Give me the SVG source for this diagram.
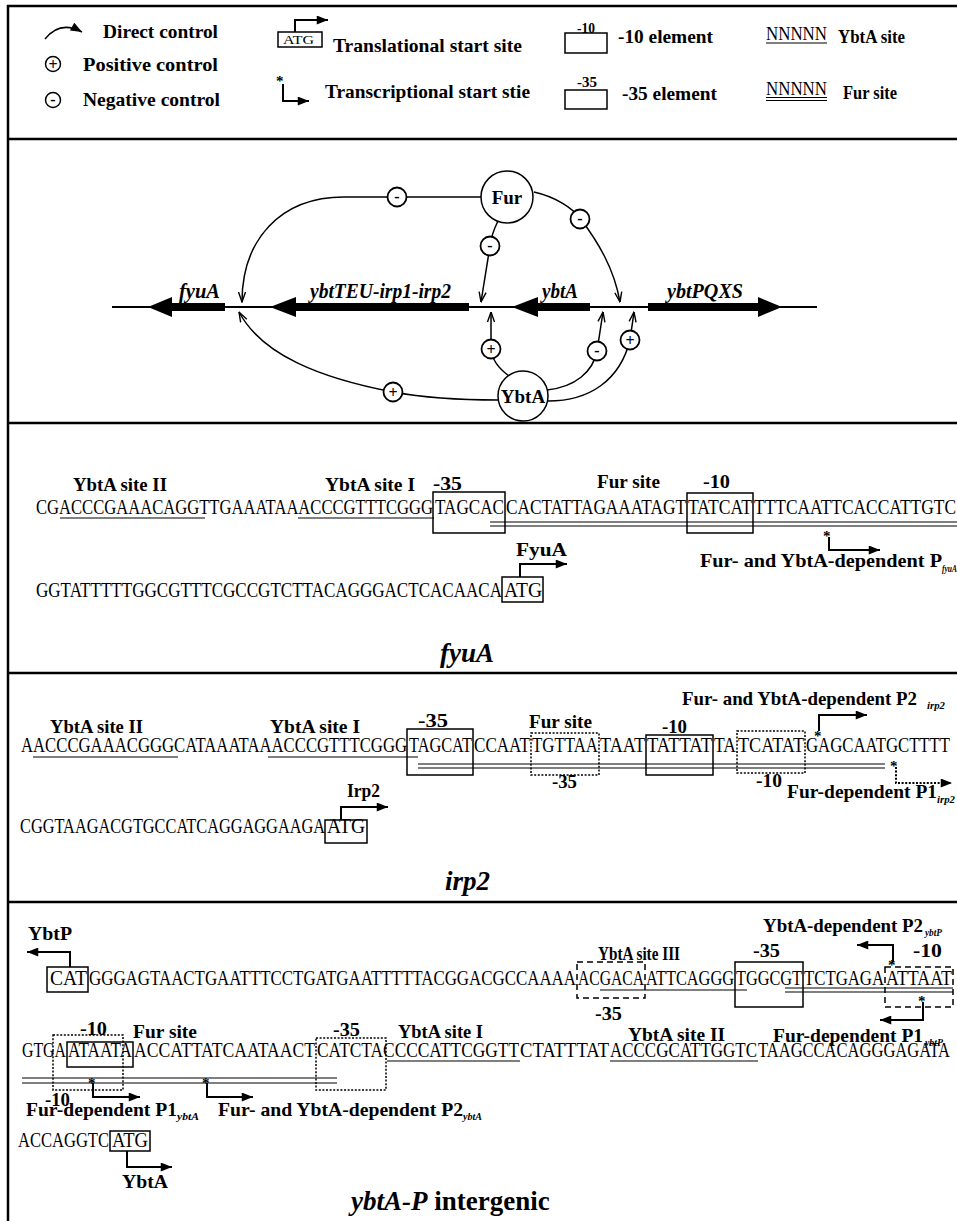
<svg xmlns="http://www.w3.org/2000/svg" width="957" height="1221" viewBox="0 0 957 1221">
<style>
text{font-family:"Liberation Serif","Times New Roman",serif;fill:#000}
.l{font-weight:bold;font-size:19px}
.sm{font-weight:bold;font-size:14px}
.s{font-size:21px}
.t{font-weight:bold;font-size:27px}
.gi{font-weight:bold;font-style:italic;font-size:20px}
.sub{font-weight:bold;font-style:italic;font-size:11px}
.ast{font-weight:bold;font-size:15px}
.sign{font-weight:bold;font-size:16px;text-anchor:middle}
.bx{fill:none;stroke:#000;stroke-width:1.5}
.dt{stroke-dasharray:2 1.6}
.ds{stroke-dasharray:6 4}
.ul{stroke:#000;stroke-width:1.2}
.fr{stroke:#000;stroke-width:2.5}
.cn{fill:none;stroke:#000;stroke-width:1.5}
.ar{fill:none;stroke:#000;stroke-width:2}
.sg{fill:#fff;stroke:#000;stroke-width:1.8}
.nd{fill:#fff;stroke:#000;stroke-width:1.5}
</style>
<defs>
<marker id="tri" viewBox="0 0 10 8" refX="10" refY="4" markerWidth="12" markerHeight="9" markerUnits="userSpaceOnUse" orient="auto"><path d="M0,0 L10,4 L0,8 z" fill="#000"/></marker>
<marker id="vee" viewBox="0 0 10 10" refX="10" refY="5" markerWidth="11" markerHeight="10" markerUnits="userSpaceOnUse" orient="auto"><path d="M0,1.5 L10,5 L0,8.5" fill="none" stroke="#000" stroke-width="1.4"/></marker>
</defs>
<rect width="957" height="1221" fill="#fff"/>

<g id="frame">
<line class="fr" x1="7" y1="6" x2="957" y2="6"/>
<line class="fr" x1="8" y1="5" x2="8" y2="1221"/>
<line class="fr" x1="8" y1="139" x2="957" y2="139"/>
<line class="fr" x1="8" y1="423" x2="957" y2="423"/>
<line class="fr" x1="8" y1="673" x2="957" y2="673"/>
<line class="fr" x1="8" y1="902" x2="957" y2="902"/>
</g>

<g id="legend">
<path class="cn" d="M45,39 Q60,20 82,32" marker-end="url(#tri)"/>
<text class="l" x="103" y="38" textLength="115" lengthAdjust="spacingAndGlyphs">Direct control</text>
<circle class="nd" cx="53" cy="64" r="7.5"/><text class="sign" x="53" y="69.5">+</text>
<text class="l" x="83" y="71" textLength="135" lengthAdjust="spacingAndGlyphs">Positive control</text>
<circle class="nd" cx="53" cy="100" r="7.5"/><text class="sign" x="53" y="105">-</text>
<text class="l" x="83" y="106" textLength="137" lengthAdjust="spacingAndGlyphs">Negative control</text>
<rect class="bx" x="278" y="32" width="44" height="15"/>
<text x="283" y="44" font-size="13" textLength="31" lengthAdjust="spacingAndGlyphs">ATG</text>
<path class="ar" d="M295,32 V20 H328" marker-end="url(#tri)"/>
<text class="l" x="333" y="52" textLength="189" lengthAdjust="spacingAndGlyphs">Translational start site</text>
<text class="ast" x="276" y="86">*</text>
<path class="ar" d="M283,84 V101 H309" marker-end="url(#tri)"/>
<text class="l" x="325" y="98" textLength="205" lengthAdjust="spacingAndGlyphs">Transcriptional start stie</text>
<rect class="bx" x="565" y="33" width="42" height="20"/>
<text class="sm" x="577" y="33" textLength="18" lengthAdjust="spacingAndGlyphs">-10</text>
<text class="l" x="618" y="43" textLength="95" lengthAdjust="spacingAndGlyphs">-10 element</text>
<rect class="bx" x="565" y="90" width="42" height="19"/>
<text class="sm" x="577" y="87" textLength="20" lengthAdjust="spacingAndGlyphs">-35</text>
<text class="l" x="622" y="100" textLength="95" lengthAdjust="spacingAndGlyphs">-35 element</text>
<text x="766" y="40" font-size="19" textLength="61" lengthAdjust="spacingAndGlyphs">NNNNN</text>
<line class="ul" x1="766" y1="43" x2="827" y2="43"/>
<text class="l" x="838" y="43" textLength="67" lengthAdjust="spacingAndGlyphs">YbtA site</text>
<text x="766" y="95" font-size="19" textLength="61" lengthAdjust="spacingAndGlyphs">NNNNN</text>
<line class="ul" x1="766" y1="97.5" x2="827" y2="97.5" stroke-width="1.5"/>
<line class="ul" x1="766" y1="100.5" x2="827" y2="100.5" stroke-width="1.5"/>
<text class="l" x="843" y="99" textLength="54" lengthAdjust="spacingAndGlyphs">Fur site</text>
</g>

<g id="dna-line"><line x1="112" y1="307" x2="817" y2="307" stroke="#000" stroke-width="2"/></g>
<g id="gene-fyuA"><polygon points="225,303 172,303 172,297 148,307 172,317 172,311 225,311"/><text class="gi" x="179" y="298" textLength="41" lengthAdjust="spacingAndGlyphs">fyuA</text></g>
<g id="gene-ybtTEU"><polygon points="469,303 296,303 296,297 270,307 296,317 296,311 469,311"/><text class="gi" x="310" y="298" textLength="141" lengthAdjust="spacingAndGlyphs">ybtTEU-irp1-irp2</text></g>
<g id="gene-ybtA"><polygon points="590,303 538,303 538,297 512,307 538,317 538,311 590,311"/><text class="gi" x="542" y="298" textLength="36" lengthAdjust="spacingAndGlyphs">ybtA</text></g>
<g id="gene-ybtPQXS"><polygon points="648,303 758,303 758,297 782,307 758,317 758,311 648,311"/><text class="gi" x="667" y="298" textLength="76" lengthAdjust="spacingAndGlyphs">ybtPQXS</text></g>

<g id="connectors">
<path class="cn" d="M481,197 L344,197 C280,197 242,240 242,302" marker-end="url(#vee)"/>
<path class="cn" d="M498,221 C493,231 491,238 490,246 L481,302" marker-end="url(#vee)"/>
<path class="cn" d="M534,192 C556,197 572,208 580,218 C598,242 614,268 620,302" marker-end="url(#vee)"/>
<path class="cn" d="M498,400 C450,400 420,397 393,392 C320,378 262,355 239,312" marker-end="url(#vee)"/>
<path class="cn" d="M509,376 C498,368 492,360 491,349 L491,312" marker-end="url(#vee)"/>
<path class="cn" d="M547,390 C575,387 593,372 597,351 L603,312" marker-end="url(#vee)"/>
<path class="cn" d="M548,401 C590,401 620,380 630,340 L634,312" marker-end="url(#vee)"/>
<circle class="sg" cx="397" cy="197" r="9.5"/><text class="sign" x="397" y="202">-</text>
<circle class="sg" cx="490" cy="246" r="9.5"/><text class="sign" x="490" y="251">-</text>
<circle class="sg" cx="580" cy="219" r="9.5"/><text class="sign" x="580" y="224">-</text>
<circle class="sg" cx="393" cy="392" r="9.5"/><text class="sign" x="393" y="397.5">+</text>
<circle class="sg" cx="491" cy="349" r="9.5"/><text class="sign" x="491" y="354.5">+</text>
<circle class="sg" cx="597" cy="351" r="9.5"/><text class="sign" x="597" y="356">-</text>
<circle class="sg" cx="630" cy="340" r="9.5"/><text class="sign" x="630" y="345.5">+</text>
</g>
<g id="Fur"><circle class="nd" cx="507" cy="197" r="26"/><text class="l" x="507" y="204" text-anchor="middle">Fur</text></g>
<g id="YbtA"><circle class="nd" cx="523" cy="396" r="25"/><text class="l" x="523" y="403" text-anchor="middle">YbtA</text></g>

<g id="fyuA-section">
<text class="l" x="73" y="491" textLength="94" lengthAdjust="spacingAndGlyphs">YbtA site II</text>
<text class="l" x="325" y="491" textLength="90" lengthAdjust="spacingAndGlyphs">YbtA site I</text>
<text class="l" x="433" y="490" textLength="29" lengthAdjust="spacingAndGlyphs">-35</text>
<text class="l" x="597" y="488" textLength="63" lengthAdjust="spacingAndGlyphs">Fur site</text>
<text class="l" x="703" y="488" textLength="27" lengthAdjust="spacingAndGlyphs">-10</text>
<text class="s" x="36" y="514" textLength="397" lengthAdjust="spacingAndGlyphs">CGACCCGAAACAGGTTGAAATAAACCCGTTTCGGG</text>
<text class="s" x="435" y="514" textLength="69" lengthAdjust="spacingAndGlyphs">TAGCAC</text>
<text class="s" x="506" y="514" textLength="180" lengthAdjust="spacingAndGlyphs">CACTATTAGAAATAGT</text>
<text class="s" x="688" y="514" textLength="64" lengthAdjust="spacingAndGlyphs">TATCAT</text>
<text class="s" x="754" y="514" textLength="202" lengthAdjust="spacingAndGlyphs">TTTCAATTCACCATTGTC</text>
<line class="ul" x1="60" y1="518" x2="205" y2="518"/>
<line class="ul" x1="298" y1="518" x2="434" y2="518"/>
<line class="ul" x1="490" y1="522" x2="957" y2="522"/>
<line class="ul" x1="490" y1="526" x2="957" y2="526"/>
<rect class="bx" x="433" y="492" width="72" height="41"/>
<rect class="bx" x="687" y="493" width="66" height="40"/>
<text class="ast" x="823" y="541">*</text>
<path class="ar" d="M829,537 V550 H880" marker-end="url(#tri)"/>
<text class="l" x="700" y="567" textLength="242" lengthAdjust="spacingAndGlyphs">Fur- and YbtA-dependent P</text>
<text class="sub" x="942" y="572" textLength="15" lengthAdjust="spacingAndGlyphs">fyuA</text>
<text class="l" x="516" y="556" font-size="21" textLength="51" lengthAdjust="spacingAndGlyphs">FyuA</text>
<path class="ar" d="M520,577 V564 H567" marker-end="url(#tri)"/>
<text class="s" x="36" y="597" textLength="466" lengthAdjust="spacingAndGlyphs">GGTATTTTTGGCGTTTCGCCGTCTTACAGGGACTCACAACA</text>
<text class="s" x="504" y="597" textLength="38" lengthAdjust="spacingAndGlyphs">ATG</text>
<rect class="bx" x="502" y="577" width="41" height="25"/>
<text class="t" x="440" y="662" font-style="italic">fyuA</text>
</g>

<g id="irp2-section">
<text class="l" x="682" y="705" textLength="235" lengthAdjust="spacingAndGlyphs">Fur- and YbtA-dependent P2</text>
<text class="sub" x="927" y="709" textLength="18" lengthAdjust="spacingAndGlyphs">irp2</text>
<path class="ar" d="M819,731 V715 H867" marker-end="url(#tri)"/>
<text class="ast" x="814" y="741">*</text>
<text class="l" x="50" y="733" textLength="93" lengthAdjust="spacingAndGlyphs">YbtA site II</text>
<text class="l" x="270" y="733" textLength="90" lengthAdjust="spacingAndGlyphs">YbtA site I</text>
<text class="l" x="418" y="727" textLength="30" lengthAdjust="spacingAndGlyphs">-35</text>
<text class="l" x="529" y="728" textLength="63" lengthAdjust="spacingAndGlyphs">Fur site</text>
<text class="l" x="662" y="733" textLength="25" lengthAdjust="spacingAndGlyphs">-10</text>
<text class="s" x="21" y="752" textLength="386" lengthAdjust="spacingAndGlyphs">AACCCGAAACGGGCATAAATAAACCCGTTTCGGG</text>
<text class="s" x="409" y="752" textLength="63" lengthAdjust="spacingAndGlyphs">TAGCAT</text>
<text class="s" x="474" y="752" textLength="56" lengthAdjust="spacingAndGlyphs">CCAAT</text>
<text class="s" x="532" y="752" textLength="66" lengthAdjust="spacingAndGlyphs">TGTTAA</text>
<text class="s" x="600" y="752" textLength="45" lengthAdjust="spacingAndGlyphs">TAAT</text>
<text class="s" x="647" y="752" textLength="65" lengthAdjust="spacingAndGlyphs">TATTAT</text>
<text class="s" x="714" y="752" textLength="22" lengthAdjust="spacingAndGlyphs">TA</text>
<text class="s" x="738" y="752" textLength="66" lengthAdjust="spacingAndGlyphs">TCATAT</text>
<text class="s" x="806" y="752" textLength="144" lengthAdjust="spacingAndGlyphs">GAGCAATGCTTTT</text>
<line class="ul" x1="33" y1="757" x2="178" y2="757"/>
<line class="ul" x1="268" y1="757" x2="418" y2="757"/>
<line class="ul" x1="418" y1="764" x2="885" y2="764"/>
<line class="ul" x1="418" y1="768" x2="885" y2="768"/>
<rect class="bx" x="407" y="729" width="66" height="46"/>
<rect class="bx dt" x="531" y="733" width="68" height="42"/>
<rect class="bx" x="646" y="735" width="67" height="40"/>
<rect class="bx dt" x="737" y="731" width="68" height="42"/>
<text class="l" x="552" y="788" textLength="25" lengthAdjust="spacingAndGlyphs">-35</text>
<text class="l" x="756" y="787" textLength="26" lengthAdjust="spacingAndGlyphs">-10</text>
<text class="ast" x="890" y="771">*</text>
<path class="ar dt" d="M896,767 V783 H952" marker-end="url(#tri)"/>
<text class="l" x="787" y="798" textLength="150" lengthAdjust="spacingAndGlyphs">Fur-dependent P1</text>
<text class="sub" x="937" y="803" textLength="18" lengthAdjust="spacingAndGlyphs">irp2</text>
<text class="l" x="347" y="797" font-size="21" textLength="33" lengthAdjust="spacingAndGlyphs">Irp2</text>
<path class="ar" d="M341,820 V807 H388" marker-end="url(#tri)"/>
<text class="s" x="20" y="833" textLength="305" lengthAdjust="spacingAndGlyphs">CGGTAAGACGTGCCATCAGGAGGAAGA</text>
<text class="s" x="327" y="833" textLength="38" lengthAdjust="spacingAndGlyphs">ATG</text>
<rect class="bx" x="325" y="820" width="42" height="23"/>
<text class="t" x="445" y="890" font-style="italic">irp2</text>
</g>

<g id="ybtA-P-section">
<text class="l" x="28" y="940" textLength="44" lengthAdjust="spacingAndGlyphs">YbtP</text>
<path class="ar" d="M70,967 V952 H27" marker-end="url(#tri)"/>
<text class="l" x="763" y="932" textLength="160" lengthAdjust="spacingAndGlyphs">YbtA-dependent P2</text>
<text class="sub" x="925" y="936" textLength="17" lengthAdjust="spacingAndGlyphs">ybtP</text>
<path class="ar" d="M893,962 V945 H857" marker-end="url(#tri)"/>
<text class="ast" x="888" y="970">*</text>
<text class="l" x="598" y="960" textLength="82" lengthAdjust="spacingAndGlyphs">YbtA site III</text>
<text class="l" x="753" y="957" textLength="27" lengthAdjust="spacingAndGlyphs">-35</text>
<text class="l" x="913" y="957" textLength="29" lengthAdjust="spacingAndGlyphs">-10</text>
<text class="s" x="50" y="985" textLength="37" lengthAdjust="spacingAndGlyphs">CAT</text>
<text class="s" x="89" y="985" textLength="487" lengthAdjust="spacingAndGlyphs">GGGAGTAACTGAATTTCCTGATGAATTTTTACGGACGCCAAAA</text>
<text class="s" x="578" y="985" textLength="66" lengthAdjust="spacingAndGlyphs">ACGACA</text>
<text class="s" x="646" y="985" textLength="88" lengthAdjust="spacingAndGlyphs">ATTCAGGG</text>
<text class="s" x="736" y="985" textLength="66" lengthAdjust="spacingAndGlyphs">TGGCGT</text>
<text class="s" x="804" y="985" textLength="80" lengthAdjust="spacingAndGlyphs">TCTGAGA</text>
<text class="s" x="886" y="985" textLength="66" lengthAdjust="spacingAndGlyphs">ATTAAT</text>
<rect class="bx" x="47" y="967" width="41" height="25"/>
<line class="ul" x1="600" y1="990" x2="747" y2="990"/>
<line class="ul" x1="785" y1="988" x2="953" y2="988"/>
<line class="ul" x1="785" y1="992" x2="953" y2="992"/>
<rect class="bx ds" x="577" y="962" width="68" height="36"/>
<rect class="bx" x="735" y="962" width="68" height="45"/>
<rect class="bx ds" x="885" y="967" width="68" height="40"/>
<text class="l" x="595" y="1020" textLength="27" lengthAdjust="spacingAndGlyphs">-35</text>
<text class="ast" x="918" y="1006">*</text>
<path class="ar" d="M923,1002 V1020 H880" marker-end="url(#tri)"/>
<text class="l" x="773" y="1042" textLength="150" lengthAdjust="spacingAndGlyphs">Fur-dependent P1</text>
<text class="sub" x="925" y="1046" textLength="18" lengthAdjust="spacingAndGlyphs">ybtP</text>
<text class="l" x="80" y="1035" textLength="27" lengthAdjust="spacingAndGlyphs">-10</text>
<text class="l" x="133" y="1038" textLength="64" lengthAdjust="spacingAndGlyphs">Fur site</text>
<text class="l" x="333" y="1036" textLength="27" lengthAdjust="spacingAndGlyphs">-35</text>
<text class="l" x="398" y="1038" textLength="85" lengthAdjust="spacingAndGlyphs">YbtA site I</text>
<text class="l" x="628" y="1041" textLength="97" lengthAdjust="spacingAndGlyphs">YbtA site II</text>
<text class="s" x="22" y="1057" textLength="44" lengthAdjust="spacingAndGlyphs">GTGA</text>
<text class="s" x="68" y="1057" textLength="64" lengthAdjust="spacingAndGlyphs">ATAATA</text>
<text class="s" x="134" y="1057" textLength="181" lengthAdjust="spacingAndGlyphs">ACCATTATCAATAACT</text>
<text class="s" x="317" y="1057" textLength="202" lengthAdjust="spacingAndGlyphs">CATCTACCCCATTCGGTT</text>
<text class="s" x="520" y="1057" textLength="89" lengthAdjust="spacingAndGlyphs">CTATTTAT</text>
<text class="s" x="610" y="1057" textLength="147" lengthAdjust="spacingAndGlyphs">ACCCGCATTGGTC</text>
<text class="s" x="758" y="1057" textLength="192" lengthAdjust="spacingAndGlyphs">TAAGCCACAGGGAGATA</text>
<line class="ul" x1="387" y1="1061" x2="520" y2="1061"/>
<line class="ul" x1="610" y1="1061" x2="758" y2="1061"/>
<line class="ul" x1="22" y1="1078" x2="337" y2="1078"/>
<line class="ul" x1="22" y1="1083" x2="337" y2="1083"/>
<rect class="bx dt" x="53" y="1035" width="70" height="55"/>
<rect class="bx" x="67" y="1042" width="66" height="25" stroke-width="2"/>
<rect class="bx dt" x="316" y="1038" width="70" height="52"/>
<text class="ast" x="88" y="1088">*</text>
<text class="ast" x="202" y="1088">*</text>
<path class="ar" d="M93,1083 V1097 H140" marker-end="url(#tri)"/>
<path class="ar" d="M207,1083 V1097 H253" marker-end="url(#tri)"/>
<text class="l" x="45" y="1106" textLength="25" lengthAdjust="spacingAndGlyphs">-10</text>
<text class="l" x="26" y="1116" textLength="151" lengthAdjust="spacingAndGlyphs">Fur-dependent P1</text>
<text class="sub" x="177" y="1120" textLength="22" lengthAdjust="spacingAndGlyphs">ybtA</text>
<text class="l" x="218" y="1116" textLength="245" lengthAdjust="spacingAndGlyphs">Fur- and YbtA-dependent P2</text>
<text class="sub" x="463" y="1120" textLength="19" lengthAdjust="spacingAndGlyphs">ybtA</text>
<text class="s" x="18" y="1147" textLength="91" lengthAdjust="spacingAndGlyphs">ACCAGGTC</text>
<text class="s" x="112" y="1147" textLength="36" lengthAdjust="spacingAndGlyphs">ATG</text>
<rect class="bx" x="110" y="1131" width="40" height="20"/>
<path class="ar" d="M127,1151 V1167 H172" marker-end="url(#tri)"/>
<text class="l" x="122" y="1188" textLength="46" lengthAdjust="spacingAndGlyphs">YbtA</text>
<text class="t" x="351" y="1210" font-size="28"><tspan font-style="italic">ybtA-P</tspan> intergenic</text>
</g>
</svg>
